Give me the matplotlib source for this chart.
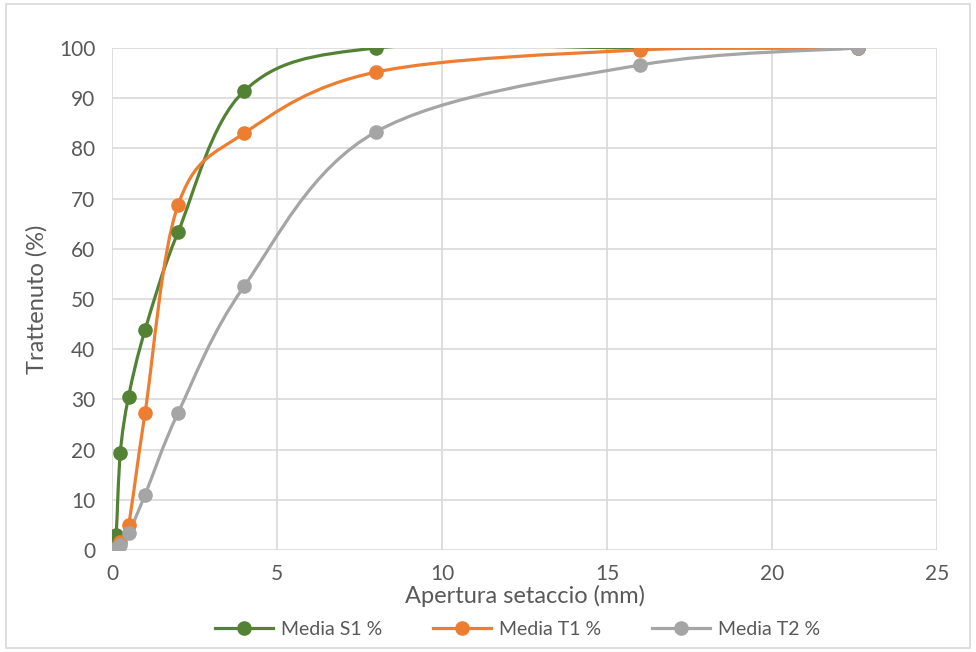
import numpy as np
import matplotlib
matplotlib.use("Agg")
import matplotlib.pyplot as plt
from matplotlib.path import Path
from matplotlib.patches import PathPatch, Rectangle
from matplotlib.lines import Line2D

plt.rcParams['font.family'] = ['Lato', 'DejaVu Sans']

# Apertura setaccio (mm)
aperture = [0.063, 0.125, 0.25, 0.5, 1, 2, 4, 8, 16, 22.6]
# Trattenuto (%)
media_s1 = [0.5, 3, 19.3, 30.5, 43.8, 63.3, 91.4, 100, 100, 100]
media_t1 = [0, 0.5, 1.5, 5, 27.3, 68.7, 83, 95.2, 99.6, 100]
media_t2 = [0, 0.3, 1, 3.3, 11, 27.3, 52.5, 83.3, 96.6, 100]

series_names = ["Media S1 %", "Media T1 %", "Media T2 %"]
colors = ["#548235", "#ED7D31", "#A5A5A5"]


# curva liscia tipo Excel (Catmull-Rom come Bezier cubiche)
def smooth_path(x, y):
    pts = np.column_stack([x, y]).astype(float)
    verts = [pts[0]]
    codes = [Path.MOVETO]
    n = len(pts)
    for i in range(n - 1):
        p0 = pts[max(i - 1, 0)]
        p1 = pts[i]
        p2 = pts[i + 1]
        p3 = pts[min(i + 2, n - 1)]
        c1 = p1 + (p2 - p0) / 6.0
        c2 = p2 - (p3 - p1) / 6.0
        verts += [c1, c2, p2]
        codes += [Path.CURVE4] * 3
    return Path(verts, codes)


fig = plt.figure(figsize=(9.76, 6.52), dpi=100)
ax = fig.add_axes([0.1148, 0.1564, 0.8452, 0.77])

fig.patches.append(Rectangle((0.006, 0.006), 0.988, 0.988, transform=fig.transFigure,
                             fill=False, edgecolor="#d9d9d9", linewidth=1.2))

handles = []
for name, vals, col in zip(series_names, [media_s1, media_t1, media_t2], colors):
    patch = PathPatch(smooth_path(aperture, vals), facecolor="none", edgecolor=col,
                      linewidth=2.3, capstyle="round", joinstyle="round", zorder=3)
    ax.add_patch(patch)
    ax.plot(aperture, vals, linestyle="none", marker="o", markersize=9.5,
            color=col, zorder=4)
    handles.append(Line2D([], [], color=col, linewidth=2.3, marker="o",
                          markersize=9.5, label=name))

ax.set_xlim(0, 25)
ax.set_ylim(0, 100)
ax.set_xticks(np.arange(0, 26, 5))
ax.set_yticks(np.arange(0, 101, 10))
ax.grid(True, color="#d9d9d9", linewidth=1.2)
ax.set_axisbelow(True)
for s in ax.spines.values():
    s.set_visible(False)
ax.tick_params(length=0, labelsize=15, colors="#595959")
ax.tick_params(axis="x", pad=10)
ax.tick_params(axis="y", pad=12)
ax.set_clip_on(False)

ax.set_xlabel("Apertura setaccio (mm)", fontsize=17, color="#595959", labelpad=1)
ax.set_ylabel("Trattenuto (%)", fontsize=17, color="#595959", labelpad=8)

fig.legend(handles=handles, loc="center", bbox_to_anchor=(0.53, 0.035), ncol=3,
           frameon=False, fontsize=14, labelcolor="#595959", handlelength=3,
           columnspacing=2.6, handletextpad=0.4)

fig.savefig("out.png", dpi=100)
